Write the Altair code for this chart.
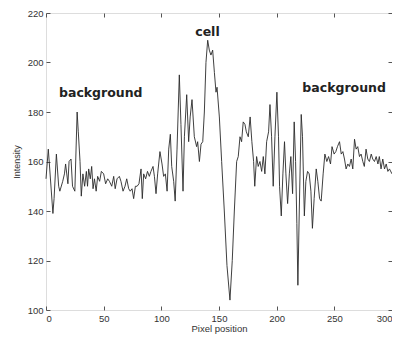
import altair as alt
import pandas as pd

pixel_pos = [0, 2, 6, 7, 9, 11, 12, 14.5, 16, 17, 19, 20, 21.7, 23, 25, 27, 28, 29.5, 30.6, 32,
             33.5, 35, 36, 37, 38.4, 39.6, 40.8, 42, 43.5, 44.8, 46.5, 48, 50, 51.7, 53.5, 55, 57,
             58.7, 60, 61.6, 63.6, 65, 66.8, 68.5, 70, 71.7, 73, 74.6, 76, 77.5, 79, 80.6, 82.4,
             83.5, 84.7, 86.4, 88, 89.6, 91, 92.8, 94, 95.4, 96.8, 98.8, 100.6, 102, 103.5, 105,
             106.4, 107.8, 109, 110.7, 112, 113.6, 115.6, 117, 118.8, 120, 122, 123.7, 125, 126.6,
             128.6, 130.6, 131.5, 133, 134.4, 135.9, 137.3, 138.7, 140.2, 141.6, 143, 144.5, 146,
             147.4, 148.3, 150.3, 152.3, 154.6, 156.9, 159.5, 161.5, 163.3, 165.3, 166.7, 168.2,
             169.6, 171, 172.5, 173.7, 175.4, 177, 178.5, 180, 181, 182.6, 184, 185.5, 187, 188.4,
             189.8, 191.3, 193, 194.2, 195.6, 197, 198.5, 200.2, 201.6, 202.5, 204, 205.4, 206.8,
             208, 209.5, 211, 212.3, 213.8, 215.2, 216.4, 217.5, 218.4, 219.6, 221.3, 222.4, 224,
             225.3, 226.8, 228.2, 229.7, 231, 232.5, 234.3, 235.7, 237.2, 238.6, 240.3, 241.8,
             243.5, 245, 246.7, 248, 249.8, 251.3, 252.7, 254.5, 256, 257.4, 258.8, 260.2, 261.7,
             263.1, 264.6, 266, 267.5, 268.9, 270.3, 271.8, 273.2, 274.7, 276, 277.5, 279, 280.4,
             282, 283.3, 284.8, 286.3, 287.8, 289, 290.5, 292, 293.5, 295, 296.4, 297.8, 300]
intensity = [153, 165, 139, 145, 163, 150, 148, 152, 155, 159, 151, 160, 161, 150, 148, 180, 172,
             160, 146, 155, 150, 156, 150, 157, 153, 158, 149, 153, 148, 154, 152, 156, 155, 151,
             153, 152, 150, 154, 149, 153, 154, 152, 148, 150, 153, 149, 148, 149, 145, 150, 150,
             151, 157, 145, 155, 153, 156, 154, 156, 158, 154, 147, 155, 164, 159, 154, 155, 148,
             165, 171, 158, 152, 144, 165, 195, 175, 148, 170, 187, 168, 178, 185, 170, 166, 168,
             160, 167, 168, 180, 200, 209, 205, 203, 205, 196, 188, 190, 178, 160, 140, 118, 104,
             120, 140, 160, 162, 170, 168, 176, 175, 172, 170, 178, 168, 160, 150, 162, 158, 160,
             156, 162, 155, 168, 172, 183, 170, 150, 170, 188, 170, 150, 138, 155, 168, 155, 143,
             155, 162, 147, 176, 160, 135, 110, 140, 179, 170, 138, 152, 156, 155, 148, 133, 145,
             157, 152, 145, 144, 155, 163, 160, 162, 159, 166, 163, 164, 166, 168, 163, 164, 161,
             157, 159, 158, 161, 157, 169, 165, 166, 162, 163, 160, 158, 165, 161, 160, 163, 161,
             160, 162, 159, 162, 157, 161, 157, 159, 156, 157, 155]

x_ticks = [0, 50, 100, 150, 200, 250, 300]
y_ticks = [100, 120, 140, 160, 180, 200, 220]

label_text = ["background", "cell", "background"]
label_x = [47.5, 140, 258.5]
label_y = [187.6, 212.5, 189.6]

df = pd.DataFrame({"x": pixel_pos, "y": intensity})
labels = pd.DataFrame({"t": label_text, "x": label_x, "y": label_y})

xs = alt.Scale(domain=[0, 300], nice=False, zero=False)
ys = alt.Scale(domain=[100, 220], nice=False, zero=False)

main_x_axis = alt.Axis(values=x_ticks, title="Pixel position", ticks=False, domain=False,
                       grid=False, labelFontSize=9.5, labelColor="#333", labelPadding=3,
                       titleFontSize=9.5, titleFontWeight="normal", titleColor="#333",
                       titlePadding=1, labelFont="Liberation Sans", titleFont="Liberation Sans")
main_y_axis = alt.Axis(values=y_ticks, title="Intensity", ticks=False, domain=False,
                       grid=False, labelFontSize=9.5, labelColor="#333", labelPadding=3,
                       titleFontSize=9, titleFontWeight="normal", titleColor="#333",
                       titlePadding=6, labelFont="Liberation Sans", titleFont="Liberation Sans")

line = alt.Chart(df).mark_line(color="#2a2a2a", strokeWidth=0.9).encode(
    x=alt.X("x:Q", scale=xs, axis=main_x_axis),
    y=alt.Y("y:Q", scale=ys, axis=main_y_axis),
)


def tick_axis(vals, orient):
    return alt.Axis(values=vals, orient=orient, labels=False, title=None, domain=False,
                    grid=False, ticks=True, tickSize=4, tickColor="#555", offset=-4)


layers = [line]
for xo, yo in [("bottom", "left"), ("top", "right")]:
    layers.append(
        alt.Chart(df).mark_point(opacity=0).encode(
            x=alt.X("x:Q", scale=xs, axis=tick_axis(x_ticks, xo)),
            y=alt.Y("y:Q", scale=ys, axis=tick_axis(y_ticks, yo)),
        )
    )

text = alt.Chart(labels).mark_text(fontSize=12.5, fontWeight="bold", color="#222",
                                   font="DejaVu Sans").encode(
    x=alt.X("x:Q", scale=xs, axis=None),
    y=alt.Y("y:Q", scale=ys, axis=None),
    text="t:N",
)
layers.append(text)

chart = alt.layer(*layers).resolve_axis(x="independent", y="independent").properties(
    width=346, height=297,
    autosize=alt.AutoSizeParams(type="none"),
    padding={"left": 38, "top": 5, "right": 0, "bottom": 24},
).configure_view(stroke="#666", strokeWidth=1).configure(background="white")

chart.save("out.html", embed_options={"renderer": "svg", "actions": False})
